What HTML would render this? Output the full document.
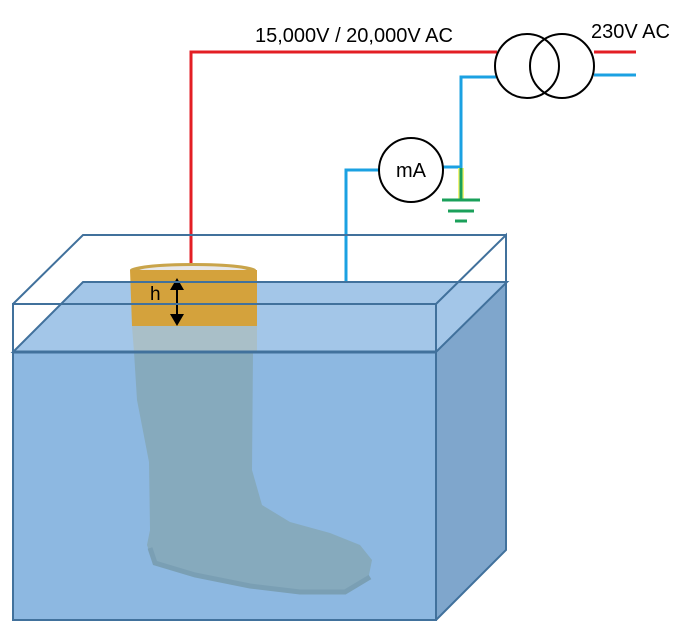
<!DOCTYPE html>
<html><head><style>
body{margin:0;background:#fff;width:691px;height:638px;overflow:hidden}
svg{display:block}
text{font-family:"Liberation Sans","DejaVu Sans",sans-serif}
</style></head><body>
<svg width="691" height="638" viewBox="0 0 691 638" xmlns="http://www.w3.org/2000/svg">
<polyline points="191,277 191,52 497,52" fill="none" stroke="#e31e24" stroke-width="3"/>
<line x1="594" y1="52" x2="636" y2="52" stroke="#e31e24" stroke-width="3"/>
<line x1="594" y1="75" x2="636" y2="75" stroke="#1ba1e2" stroke-width="3"/>
<polyline points="496,77 461,77 461,167 443,167" fill="none" stroke="#1ba1e2" stroke-width="3"/>
<polyline points="379,170 346,170 346,298" fill="none" stroke="#1ba1e2" stroke-width="3"/>
<line x1="461" y1="168" x2="461" y2="200" stroke="#f2f57a" stroke-width="6"/>
<line x1="461" y1="168" x2="461" y2="200" stroke="#1aa05a" stroke-width="3"/>
<line x1="442" y1="200" x2="480" y2="200" stroke="#1aa05a" stroke-width="3"/>
<line x1="448" y1="211" x2="474" y2="211" stroke="#1aa05a" stroke-width="3"/>
<line x1="455" y1="221" x2="467" y2="221" stroke="#1aa05a" stroke-width="3"/>
<circle cx="527" cy="66" r="32" fill="none" stroke="#000" stroke-width="2"/>
<circle cx="562" cy="66" r="32" fill="none" stroke="#000" stroke-width="2"/>
<circle cx="411" cy="170" r="32" fill="#fff" stroke="#000" stroke-width="2"/>
<text x="411" y="177" font-size="20" text-anchor="middle">mA</text>
<text x="255" y="42" font-size="20">15,000V / 20,000V AC</text>
<text x="591" y="38" font-size="20">230V AC</text>
<polyline points="13,304 83,235 506,235 506,282" fill="none" stroke="#41719c" stroke-width="2"/>
<polygon points="13,352 436,352 507,282 83,282" fill="#a3c6e8"/>
<polygon points="436,352 507,282 507,550 436,620" fill="#7fa6cc"/>
<rect x="13" y="352" width="423" height="268" fill="#8db8e1"/>
<ellipse cx="193" cy="270" rx="63" ry="7" fill="#c9a44a"/>
<ellipse cx="193" cy="271" rx="55" ry="5" fill="#e8e8ea"/>
<path d="M130,270 L257,270 L257,326 L132,326 Z" fill="#d4a23c"/>
<path d="M132,326 L257,326 L257,352 L134,352 Z" fill="#a9bfc8"/>
<path d="M134,352 L137,400 L149,462 L150,530 L147,545 L152,560 L195,575 L250,586 L300,592 L345,592 L368,580 L372,560 L360,545 L330,533 L290,522 L262,505 L252,470 L253,352 Z" fill="#86aabd"/>
<path d="M150,548 L155,563 L195,575 L250,586 L300,592 L345,592 L370,577" fill="none" stroke="#7a9fb4" stroke-width="5"/>
<line x1="177" y1="282" x2="177" y2="320" stroke="#000" stroke-width="2"/>
<polygon points="177,278 170,290 184,290" fill="#000"/>
<polygon points="177,326 170,314 184,314" fill="#000"/>
<text x="150" y="300" font-size="19">h</text>
<polygon points="13,352 436,352 507,282 83,282" fill="none" stroke="#41719c" stroke-width="2"/>
<rect x="13" y="304" width="423" height="316" fill="none" stroke="#41719c" stroke-width="2"/>
<polyline points="436,304 506,235 506,550 436,620" fill="none" stroke="#41719c" stroke-width="2"/>
<line x1="13" y1="352" x2="436" y2="352" stroke="#41719c" stroke-width="3"/>
</svg>
</body></html>
